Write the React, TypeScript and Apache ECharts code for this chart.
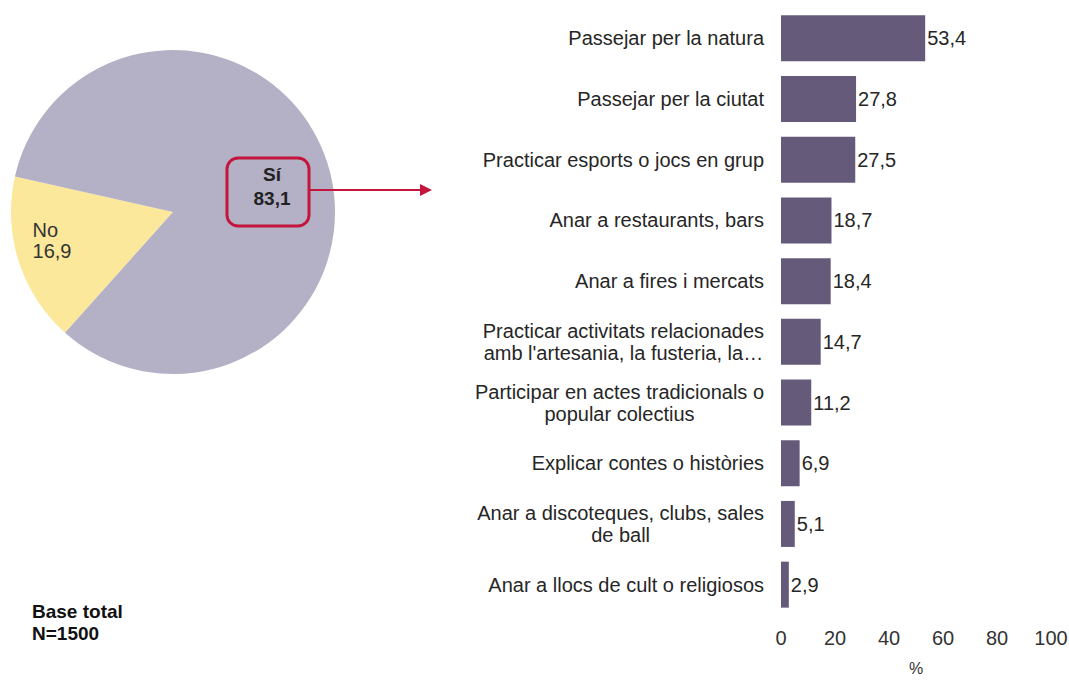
import React, { useEffect, useRef } from "react";
import * as echarts from "echarts";

const pieNames = ["No", "Sí"];
const pieValues = [16.9, 83.1];

const categories = [
  "Passejar per la natura",
  "Passejar per la ciutat",
  "Practicar esports o jocs en grup",
  "Anar a restaurants, bars",
  "Anar a fires i mercats",
  "Practicar activitats relacionades\namb l'artesania, la fusteria, la…",
  "Participar en actes tradicionals o\npopular colectius",
  "Explicar contes o històries",
  "Anar a discoteques, clubs, sales\nde ball",
  "Anar a llocs de cult o religiosos",
];
const barValues = [53.4, 27.8, 27.5, 18.7, 18.4, 14.7, 11.2, 6.9, 5.1, 2.9];
const xTicks = [0, 20, 40, 60, 80, 100];

const fmt = (v: number) => v.toFixed(1).replace(".", ",");
const FONT = "'Liberation Sans', Arial, sans-serif";
const RED = "#c4163c";
const FS = 20;

export default function App() {
  const ref = useRef<HTMLDivElement>(null);
  useEffect(() => {
    if (!ref.current) return;
    const chart = echarts.init(ref.current, undefined, { renderer: "svg" });
    chart.setOption({
      animation: false,
      textStyle: { fontFamily: FONT },
      title: {
        text: "Base total\nN=1500",
        left: 27,
        top: 595,
        textStyle: { fontSize: 19, fontWeight: "bold", color: "#111", lineHeight: 22, fontFamily: FONT },
      },
      grid: { left: 781, right: 18, top: 8, bottom: 65, outerBoundsMode: "none", containLabel: false },
      xAxis: {
        type: "value",
        min: xTicks[0],
        max: xTicks[xTicks.length - 1],
        interval: 20,
        name: "%",
        nameLocation: "middle",
        nameGap: 45,
        nameTextStyle: { fontSize: 16, color: "#333", fontFamily: FONT },
        axisLine: { show: false },
        axisTick: { show: false },
        splitLine: { show: false },
        axisLabel: { fontSize: FS, color: "#333", margin: 13, fontFamily: FONT },
      },
      yAxis: {
        type: "category",
        data: categories,
        inverse: true,
        axisLine: { show: false },
        axisTick: { show: false },
        axisLabel: {
          fontSize: FS,
          color: "#262626",
          margin: 17,
          fontFamily: FONT,
          formatter: (v: string) =>
            v
              .split("\n")
              .map((l) => `{c|${l}}`)
              .join("\n"),
          rich: { c: { align: "center", fontSize: FS, color: "#262626", lineHeight: 22, fontFamily: FONT } },
        },
      },
      series: [
        {
          type: "bar",
          data: barValues,
          barWidth: 46,
          itemStyle: { color: "#665a7b" },
          label: {
            show: true,
            position: "right",
            distance: 2,
            fontSize: FS,
            color: "#262626",
            fontFamily: FONT,
            formatter: (p: any) => fmt(p.value),
          },
        },
        {
          type: "pie",
          center: [173, 212],
          radius: 162,
          startAngle: 228.2,
          clockwise: true,
          silent: true,
          data: pieNames.map((n, i) => ({ name: n, value: pieValues[i] })),
          color: ["#fce89b", "#b4b0c5"],
          itemStyle: { borderWidth: 0 },
          labelLine: { show: false },
          label: {
            show: true,
            position: "inside",
            fontFamily: FONT,
            formatter: (p: any) =>
              p.dataIndex === 0 ? `{n|${p.name}}\n{n|${fmt(p.value)}}` : `{s|${p.name}}\n{s|${fmt(p.value)}}`,
            rich: {
              n: { fontSize: FS, color: "#333", lineHeight: 21, align: "left", fontFamily: FONT },
              s: { fontSize: 19, color: "#222", fontWeight: "bold", lineHeight: 24, align: "center", fontFamily: FONT },
            },
          },
          labelLayout: (p: any) =>
            p.dataIndex === 0 ? { dx: -41, dy: 3 } : { dx: 19, dy: 0 },
        },
      ],
      graphic: [
        {
          type: "rect",
          z: 100,
          shape: { x: 227, y: 158, width: 82, height: 68, r: 11 },
          style: { fill: "none", stroke: RED, lineWidth: 3 },
        },
        {
          type: "line",
          z: 100,
          shape: { x1: 310, y1: 190, x2: 424, y2: 190 },
          style: { stroke: RED, lineWidth: 2 },
        },
        {
          type: "polygon",
          z: 100,
          shape: { points: [[420, 184], [432, 190], [420, 196]] },
          style: { fill: RED },
        },
      ],
    });
    return () => chart.dispose();
  }, []);
  return (
    <div
      ref={ref}
      style={{ position: "fixed", left: 0, top: 0, width: 1069, height: 680, background: "#fff" }}
    />
  );
}
